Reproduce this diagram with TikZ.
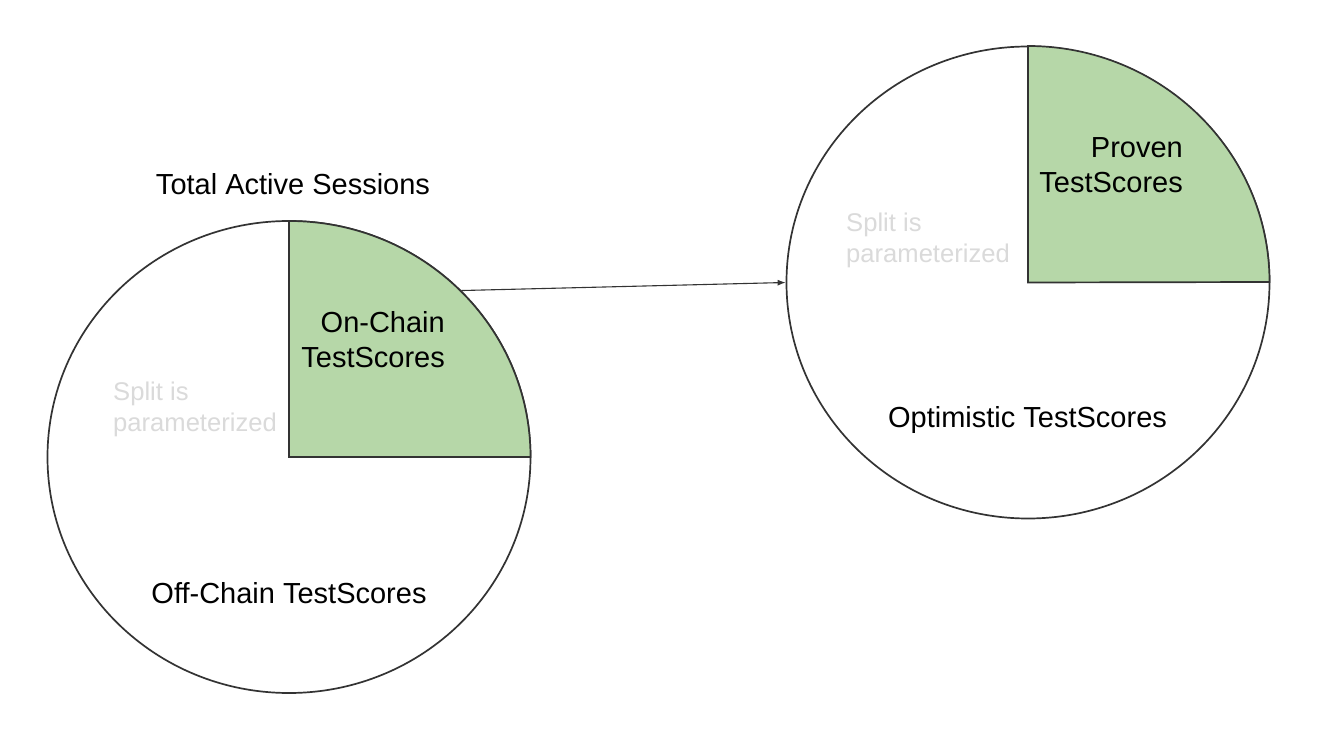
\documentclass[tikz,border=0pt]{standalone}
\usepackage{fontspec}
\setmainfont{Liberation Sans}
\usetikzlibrary{shapes.geometric,arrows.meta}
\definecolor{qgreen}{HTML}{B6D7A8}
\definecolor{outline}{HTML}{333333}
\definecolor{faint}{HTML}{DADADA}
\tikzset{
  pie/.style={draw=outline, line width=1.7pt, ellipse, minimum width=483pt, minimum height=472pt, inner sep=0pt},
  quarter/.style={draw=outline, line width=1.7pt, fill=qgreen},
  lbl/.style={inner sep=0pt, font=\fontsize{29}{35}\selectfont, text=black},
  hint/.style={inner sep=0pt, font=\fontsize{25.6}{31.5}\selectfont, text=faint, align=left},
  link/.style={draw=outline, line width=1.1pt, -{Latex[length=8pt,width=6pt]}}
}
\begin{document}
\begin{tikzpicture}[x=1pt,y=1pt]
\useasboundingbox (0,0) rectangle (1326,732);
\fill[white] (0,0) rectangle (1326,732);
% left pie
\node[pie] (L) at (289,275) {};
\draw[quarter] (289,275) -- (289,511) arc[start angle=90, end angle=0, x radius=241.5, y radius=236] -- cycle;
% right pie
\node[pie] (R) at (1028,449.5) {};
\draw[quarter] (1028,449.5) -- (1028,686) arc[start angle=90, end angle=0, x radius=241.5, y radius=236] -- cycle;
% texts (base anchor = baseline of last line)
\node[lbl, anchor=base] (title) at (293,537) {Total Active Sessions};
\node[lbl, anchor=base east, align=right] (onchain) at (445,364) {On-Chain\\TestScores};
\node[hint, anchor=base west] (splitL) at (113,300) {Split is\\parameterized};
\node[lbl, anchor=base] (offchain) at (289,129) {Off-Chain TestScores};
\node[lbl, anchor=base east, align=right] (proven) at (1183,539) {Proven\\TestScores};
\node[hint, anchor=base west] (splitR) at (846,469) {Split is\\parameterized};
\node[lbl, anchor=base] (optim) at (1027.5,304) {Optimistic TestScores};
% connector
\draw[link] (L.44) -- (R.west);
\end{tikzpicture}
\end{document}
